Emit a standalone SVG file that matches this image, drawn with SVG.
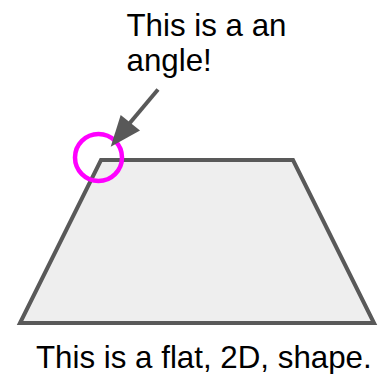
<svg xmlns="http://www.w3.org/2000/svg" width="385" height="374" viewBox="0 0 385 374">
<style>
.t{font-family:"Liberation Sans",Arial,sans-serif;font-size:31.3px;fill:#000}
.edge{stroke:#595959;stroke-width:4;fill:none}
</style>
<rect width="385" height="374" fill="#fff"/>
<g id="shape">
<polygon points="101,160 293,160 374,323 20,323" fill="#eeeeee" stroke="#595959" stroke-width="4" stroke-linejoin="miter"/>
<text class="t" x="36" y="367.5">This is a flat, 2D, shape.</text>
</g>
<g id="label">
<text class="t" x="126.5" y="35.5">This is a an</text>
<text class="t" x="126.5" y="70.5">angle!</text>
</g>
<g id="highlight">
<circle cx="98.5" cy="157.5" r="23.5" fill="none" stroke="#ff00ff" stroke-width="4.5"/>
</g>
<g id="connectors">
<line class="edge" x1="158" y1="89.5" x2="129" y2="124"/>
<polygon points="110.7,146.7 120.7,115 140,130.5" fill="#595959"/>
</g>
</svg>
